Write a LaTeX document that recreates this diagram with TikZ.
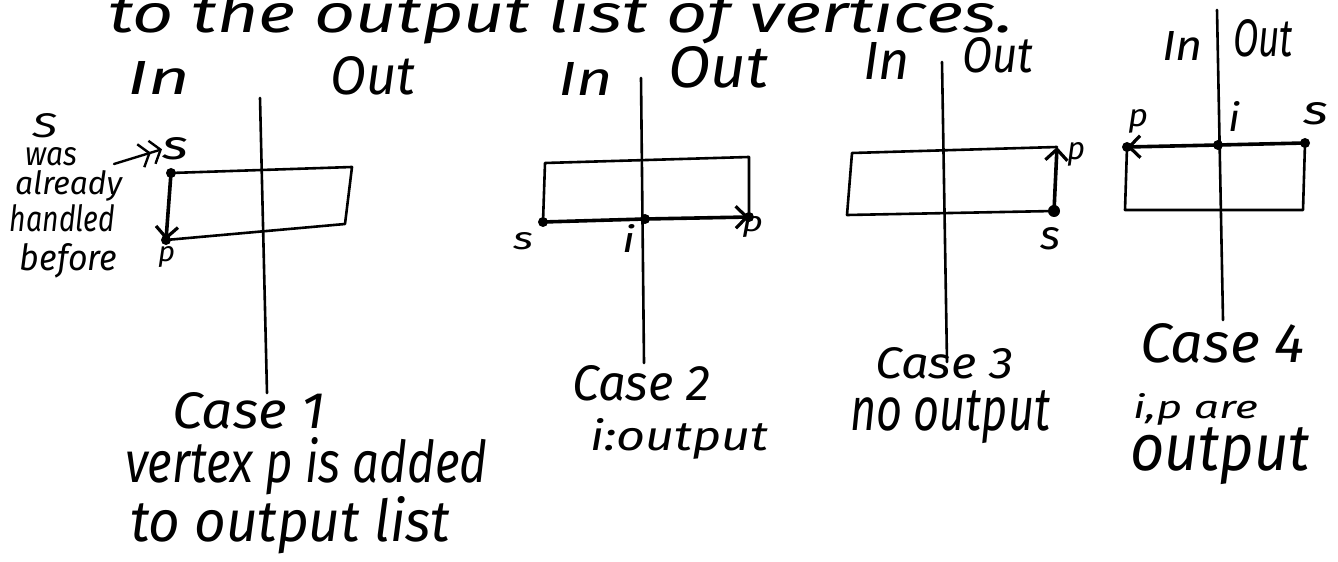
\documentclass[tikz,border=0pt]{standalone}
\usepackage{fontspec}
\setmainfont{Fira Sans}
\usetikzlibrary{arrows.meta}
% handwritten-style text: width, height above baseline, text
\newcommand\hand[3]{\resizebox{#1bp}{#2bp}{\itshape #3}}
\tikzset{
  txt/.style={anchor=base west, inner sep=0pt, outer sep=0pt},
  frame/.style={line width=2.6bp, line join=round, line cap=round},
  axis/.style={line width=2.6bp, line cap=round},
  arr/.style={line width=3.6bp, line cap=round,
    -{Straight Barb[length=11bp,width=22bp,line width=3.2bp]}},
  note/.style={line width=2.4bp, line cap=round,
    -{Straight Barb[length=9bp,width=24bp]Straight Barb[length=9bp,width=24bp]}},
  dot/.style={circle, fill, inner sep=0pt, minimum size=10bp}
}
\begin{document}
\begin{tikzpicture}[x=1bp,y=-1bp]
\useasboundingbox[fill=white] (0,0) rectangle (1338,562);

% heading (continues from above)
\node[txt] (head) at (108,33) {\hand{905}{42}{to the output list of vertices.}};

% ---------------- Case 1 ----------------
\node[txt] (inA)  at (127,95) {\hand{63}{33}{In}};
\node[txt] (outA) at (330,95) {\hand{85}{38}{Out}};
\coordinate (axA1) at (260,98);
\coordinate (axA2) at (267,393);
\draw[axis] (axA1) -- (axA2);
\coordinate (a1) at (171,173);
\coordinate (a2) at (352,167);
\coordinate (a3) at (345,224);
\coordinate (a4) at (166,240);
\draw[frame] (a1) -- (a2) -- (a3) -- (a4);
\node[dot] (sA) at (a1) {};
\node[dot] (pA) at (a4) {};
\draw[arr] (sA.center) -- (pA.center);
\node[txt] (sAl) at (162,160) {\hand{26}{22}{s}};
\node[txt] (pAl) at (158,262) {\hand{17}{15}{p}};
% side note
\node[txt] (nS)  at (32,138) {\hand{25}{24}{S}};
\node[txt] (nW)  at (25,166) {\hand{52}{18}{was}};
\node[txt] (nA)  at (15,195) {\hand{107}{24}{already}};
\node[txt] (nH)  at (10,232) {\hand{105}{27}{handled}};
\node[txt] (nB)  at (20,270) {\hand{97}{27}{before}};
\coordinate (noteTail) at (114,164);
\draw[note] (noteTail) -- (sAl.west);
% caption
\node[txt] (capA1) at (172,428) {\hand{153}{36}{Case 1}};
\node[txt] (capA2) at (125,482) {\hand{362}{45}{vertex p is added}};
\node[txt] (capA3) at (130,541) {\hand{320}{45}{to output list}};

% ---------------- Case 2 ----------------
\node[txt] (inB)  at (558,96) {\hand{55}{33}{In}};
\node[txt] (outB) at (668,88) {\hand{100}{41}{Out}};
\coordinate (axB1) at (641,78);
\coordinate (axB2) at (644,363);
\draw[axis] (axB1) -- (axB2);
\coordinate (b1) at (545,163);
\coordinate (b2) at (749,157);
\coordinate (b3) at (749,217);
\coordinate (b4) at (543,222);
\draw[frame] (b3) -- (b2) -- (b1) -- (b4);
\node[dot] (sB) at (b4) {};
\node[dot] (iB) at (645,219) {};
\node[dot] (pB) at (b3) {};
\draw[arr] (sB.center) -- (iB.center) -- (pB.center);
\node[txt] (sBl) at (513,250) {\hand{20}{17}{s}};
\node[txt] (iBl) at (622,253) {\hand{13}{28}{i}};
\node[txt] (pBl) at (742,232) {\hand{21}{15}{p}};
\node[txt] (capB1) at (572,400) {\hand{138}{35}{Case 2}};
\node[txt] (capB2) at (590,450) {\hand{178}{32}{i:output}};

% ---------------- Case 3 ----------------
\node[txt] (inC)  at (863,80) {\hand{47}{37}{In}};
\node[txt] (outC) at (962,73) {\hand{71}{35}{Out}};
\coordinate (axC1) at (942,62);
\coordinate (axC2) at (947,362);
\draw[axis] (axC1) -- (axC2);
\coordinate (c1) at (852,153);
\coordinate (c2) at (1057,147);
\coordinate (c3) at (1054,211);
\coordinate (c4) at (847,215);
\draw[frame] (c2) -- (c1) -- (c4) -- (c3);
\node[dot, minimum size=12bp] (sC) at (c3) {};
\coordinate (pC) at (c2);
\draw[arr] (sC.center) -- (pC);
\node[txt] (pCl) at (1067,160) {\hand{18}{17}{p}};
\node[txt] (sCl) at (1040,250) {\hand{20}{22}{s}};
\node[txt] (capC1) at (875,378) {\hand{138}{31}{Case 3}};
\node[txt] (capC2) at (850,430) {\hand{200}{40}{no output}};

% ---------------- Case 4 ----------------
\node[txt] (inD)  at (1162,61) {\hand{41}{29}{In}};
\node[txt] (outD) at (1233,57) {\hand{60}{37}{Out}};
\coordinate (axD1) at (1217,10);
\coordinate (axD2) at (1223,320);
\draw[axis] (axD1) -- (axD2);
\coordinate (d1) at (1127,147);
\coordinate (d2) at (1305,143);
\coordinate (d3) at (1303,210);
\coordinate (d4) at (1125,210);
\draw[frame] (d1) -- (d4) -- (d3) -- (d2);
\node[dot] (sD) at (d2) {};
\node[dot] (iD) at (1218,145) {};
\node[dot] (pD) at (d1) {};
\draw[arr] (sD.center) -- (iD.center) -- (pD.center);
\node[txt] (pDl) at (1128,127) {\hand{20}{17}{p}};
\node[txt] (iDl) at (1228,132) {\hand{12}{30}{i}};
\node[txt] (sDl) at (1303,125) {\hand{25}{22}{s}};
\node[txt] (capD1) at (1140,362) {\hand{165}{39}{Case 4}};
\node[txt] (capD2) at (1133,418) {\hand{125}{25}{i,p are}};
\node[txt] (capD3) at (1130,470) {\hand{180}{43}{output}};
\end{tikzpicture}
\end{document}
